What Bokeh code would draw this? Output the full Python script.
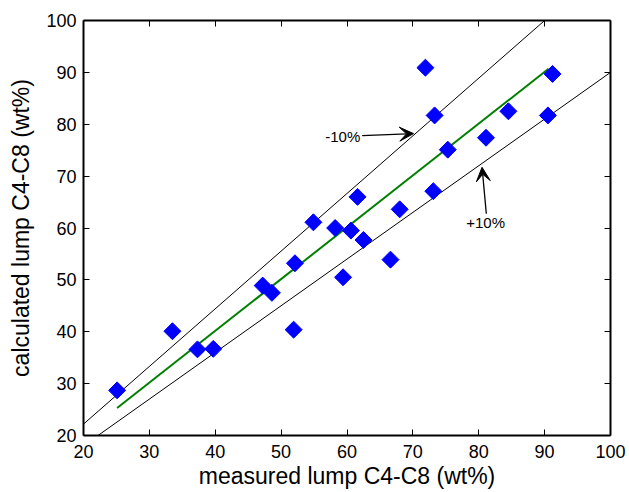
import numpy as np
from bokeh.plotting import figure
from bokeh.models import Range1d, LinearAxis, Label, Arrow, VeeHead, FixedTicker, CustomJSTickFormatter
from bokeh.embed import file_html
from bokeh.resources import INLINE

# ---- data ----
measured = [25.1, 33.5, 37.3, 39.7, 47.2, 48.6, 51.9, 52.1, 54.9, 58.2, 59.4, 60.6,
            61.6, 62.5, 66.6, 68.0, 71.9, 73.1, 73.3, 75.3, 81.1, 84.5, 90.5, 91.2]
calculated = [28.7, 40.1, 36.6, 36.7, 48.9, 47.5, 40.4, 53.2, 61.1, 60.0, 50.5, 59.5,
              66.0, 57.7, 53.9, 63.6, 90.9, 67.1, 81.7, 75.1, 77.4, 82.5, 81.7, 89.7]

minus10_x = [20, 90]
minus10_y = [22.2, 100]
plus10_x = [22.2, 100]
plus10_y = [20, 90]
fit_x = [25.1, 90.6]
fit_y = [25.3, 90.7]

ticks = [20, 30, 40, 50, 60, 70, 80, 90, 100]

label_minus = ("-10%", 56.7, 77.65)
label_plus = ("+10%", 78.1, 61.1)
arrow_minus = (62.3, 77.8, 70.1, 78.2)
arrow_plus = (81.15, 62.75, 80.5, 71.7)

FONT = "Liberation Sans"

p = figure(frame_width=527, frame_height=415, output_backend="svg", toolbar_location=None,
           x_range=Range1d(20, 100), y_range=Range1d(20, 100),
           min_border_left=83, min_border_top=20, min_border_right=19, min_border_bottom=57)
p.grid.visible = False
p.outline_line_color = None
p.background_fill_color = "white"
p.border_fill_color = "white"

def style_axis(ax, labels=True):
    ax.ticker = FixedTicker(ticks=ticks)
    ax.major_tick_in = 6
    ax.major_tick_out = 0
    ax.minor_tick_in = 0
    ax.minor_tick_out = 0
    ax.axis_line_width = 2
    ax.axis_line_color = "black"
    ax.major_tick_line_color = "black"
    ax.major_tick_line_width = 1
    ax.major_label_text_font = FONT
    ax.major_label_text_color = "black"
    ax.axis_label_text_font = FONT
    ax.axis_label_text_font_style = "normal"
    ax.axis_label_text_color = "black"
    if labels:
        ax.major_label_text_font_size = "18px"
        ax.axis_label_text_font_size = "23px"
    else:
        ax.formatter = CustomJSTickFormatter(code="return '';")
        ax.major_label_standoff = 0

style_axis(p.xaxis[0])
style_axis(p.yaxis[0])
p.xaxis[0].axis_label = "measured lump C4-C8 (wt%)"
p.yaxis[0].axis_label = "calculated lump C4-C8 (wt%)"
p.xaxis[0].major_label_standoff = 9
p.xaxis[0].axis_label_standoff = 2
p.yaxis[0].major_label_standoff = 7
p.yaxis[0].axis_label_standoff = 9

top = LinearAxis()
style_axis(top, labels=False)
p.add_layout(top, "above")
right = LinearAxis()
style_axis(right, labels=False)
p.add_layout(right, "right")

# guide lines
p.line(minus10_x, minus10_y, line_color="black", line_width=1)
p.line(plus10_x, plus10_y, line_color="black", line_width=1)
# fit line
p.line(fit_x, fit_y, line_color="#008000", line_width=2)
# points
p.scatter(measured, calculated, marker="square", size=12, angle=np.pi / 4,
          fill_color="#0000ff", line_color="#0000ff", line_width=1)

for txt, lx, ly in (label_minus, label_plus):
    p.add_layout(Label(x=lx, y=ly, text=txt, text_font=FONT, text_font_size="15px",
                       text_color="black", text_align="left", text_baseline="middle"))

for xs, ys, xe, ye in (arrow_minus, arrow_plus):
    p.add_layout(Arrow(end=VeeHead(size=14, fill_color="black", line_color="black", line_width=1),
                       x_start=xs, y_start=ys, x_end=xe, y_end=ye,
                       line_color="black", line_width=1.3))

open("out.html", "w").write(file_html(p, INLINE))
